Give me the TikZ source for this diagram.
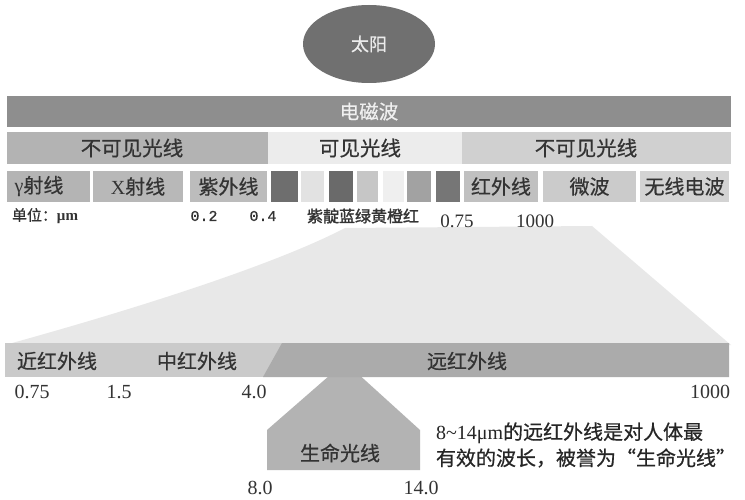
\documentclass[tikz,border=0pt]{standalone}
\usepackage{fontspec}
\setmainfont{Liberation Serif}
\newfontfamily\cjk[FakeBold=0.6]{Noto Sans CJK SC}
\newfontfamily\cjkb[FakeBold=1.6]{Noto Sans CJK SC}
\newfontfamily\monof[FakeBold=0.8]{Liberation Mono}
\usetikzlibrary{shapes.geometric}
\newcommand{\myfs}[1]{\fontsize{#1}{#1}\selectfont}
\definecolor{txt}{HTML}{333333}
\definecolor{sunc}{HTML}{707070}
\definecolor{emc}{HTML}{8E8E8E}
\definecolor{invl}{HTML}{B3B3B3}
\definecolor{visc}{HTML}{ECECEC}
\definecolor{invr}{HTML}{D0D0D0}
\definecolor{gc}{HTML}{B4B4B4}
\definecolor{xc}{HTML}{B8B8B8}
\definecolor{uvc}{HTML}{BCBCBC}
\definecolor{irc}{HTML}{C0C0C0}
\definecolor{mwc}{HTML}{CBCBCB}
\definecolor{rdc}{HTML}{D3D3D3}
\definecolor{swa}{HTML}{6E6E6E}
\definecolor{swb}{HTML}{E2E2E2}
\definecolor{swc}{HTML}{6A6A6A}
\definecolor{swd}{HTML}{C6C6C6}
\definecolor{swe}{HTML}{EFEFEF}
\definecolor{swf}{HTML}{A2A2A2}
\definecolor{swg}{HTML}{767676}
\definecolor{fanc}{HTML}{E8E8E8}
\definecolor{irl}{HTML}{CACACA}
\definecolor{ird}{HTML}{ABABAB}
\definecolor{lifec}{HTML}{B3B3B3}
\begin{document}
\begin{tikzpicture}[x=1pt,y=-1pt,
  cell/.style={inner sep=0pt, outer sep=0pt, text=txt, font=\cjk\myfs{20}},
  lab/.style={inner sep=0pt, outer sep=0pt, text=txt, font=\myfs{20}},
  small/.style={inner sep=0pt, outer sep=0pt, text=txt}]
\useasboundingbox[fill=white] (0,0) rectangle (745,500);

% sun
\node[ellipse, fill=sunc, minimum width=132pt, minimum height=78pt, inner sep=0pt,
      text=white!92!black, font=\cjk\myfs{18}] (sun) at (369,44) {太阳};

% electromagnetic wave bar
\node[cell, fill=emc, minimum width=724pt, minimum height=31pt,
      text=white!94!black, font=\cjk\myfs{19.5}] (em) at (369,111.5) {电磁波};

% row 2
\node[cell, fill=invl, minimum width=261pt, minimum height=32pt, font=\cjk\myfs{20.5}] (invleft) at (137.5,148) {};
\node[cell, font=\cjk\myfs{20.5}] (invlefttext) at (132,148) {不可见光线};
\node[cell, fill=visc, minimum width=194pt, minimum height=32pt, font=\cjk\myfs{20.5}] (vis) at (365,148) {};
\node[cell, font=\cjk\myfs{20.5}] (vistext) at (360,148) {可见光线};
\node[cell, fill=invr, minimum width=269pt, minimum height=32pt, font=\cjk\myfs{20.5}] (invright) at (596.5,148) {};
\node[cell, font=\cjk\myfs{20.5}] (invrighttext) at (586,148) {不可见光线};

% row 3
\node[cell, fill=gc, minimum width=83pt, minimum height=31pt] (gamma) at (48.5,186.5) {};
\node[cell] (gammatext) at (39,186.5) {{\rmfamily γ}射线};
\node[cell, fill=xc, minimum width=90pt, minimum height=31pt] (xray) at (138,186.5) {{\rmfamily X}射线};
\node[cell, fill=uvc, minimum width=77pt, minimum height=31pt] (uv) at (228.5,186.5) {紫外线};
\node[cell, fill=swa, minimum width=27pt, minimum height=31pt] (s1) at (284.5,186.5) {};
\node[cell, fill=swb, minimum width=23pt, minimum height=31pt] (s2) at (312.5,186.5) {};
\node[cell, fill=swc, minimum width=24pt, minimum height=31pt] (s3) at (341,186.5) {};
\node[cell, fill=swd, minimum width=21pt, minimum height=31pt] (s4) at (367.5,186.5) {};
\node[cell, fill=swe, minimum width=21pt, minimum height=31pt] (s5) at (393.5,186.5) {};
\node[cell, fill=swf, minimum width=24pt, minimum height=31pt] (s6) at (419,186.5) {};
\node[cell, fill=swg, minimum width=24pt, minimum height=31pt] (s7) at (448,186.5) {};
\node[cell, fill=irc, minimum width=74pt, minimum height=31pt] (ir) at (501,186.5) {红外线};
\node[cell, fill=mwc, minimum width=93pt, minimum height=31pt] (mw) at (589.5,186.5) {微波};
\node[cell, fill=rdc, minimum width=89pt, minimum height=31pt] (radio) at (684.5,186.5) {无线电波};

% fan
\fill[fanc] (5,345) .. controls (150,305) and (280,262) .. (345,228) -- (592,226) -- (731,345) -- cycle;

% scale labels of upper spectrum
\node[small, anchor=west, font=\myfs{15}] (unit) at (12,216) {{\cjk 单位：}{\bfseries μm}};
\node[small, font=\monof\myfs{15}] (l02) at (204,216) {0.2};
\node[small, font=\monof\myfs{15}] (l04) at (263,216) {0.4};
\node[small, font=\cjkb\myfs{16}] (colors) at (363,216) {紫靛蓝绿黄橙红};
\node[small, font=\myfs{19}] (l075) at (457,221) {0.75};
\node[small, font=\myfs{19}] (l1000) at (535,221) {1000};

% life light shape (drawn before the bar so the bar covers its tip)
\fill[lifec] (345,362) -- (420,430) -- (420,470) -- (267,470) -- (267,430) -- cycle;

% infrared bar
\node[cell, fill=irl, minimum width=724pt, minimum height=34pt] (irbar) at (367,360) {};
\fill[ird] (282,343) -- (729,343) -- (729,377) -- (263,377) -- cycle;
\node[cell] (near) at (57,361) {近红外线};
\node[cell] (mid) at (197,361) {中红外线};
\node[cell] (far) at (467,361) {远红外线};

\node[lab] (b075) at (32,392) {0.75};
\node[lab] (b15) at (119,392) {1.5};
\node[lab] (b40) at (254,392) {4.0};
\node[lab] (b1000) at (710,392) {1000};

\node[cell] (life) at (340,453) {生命光线};
\node[lab] (b80) at (260,488) {8.0};
\node[lab] (b140) at (421,488) {14.0};

\node[small, anchor=west, font=\myfs{20}, text=black!85] (note1) at (436,433) {8\textasciitilde 14μm{\cjk 的远红外线是对人体最}};
\node[small, anchor=west, font=\cjk\myfs{20}, text=black!85] (note2) at (436,458) {有效的波长，被誉为“生命光线”};
\end{tikzpicture}
\end{document}
